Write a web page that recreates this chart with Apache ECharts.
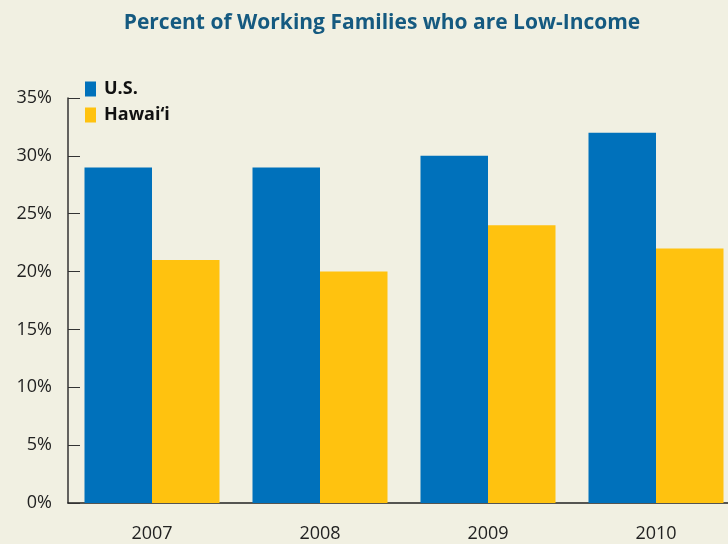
<!DOCTYPE html>
<html><head><meta charset="utf-8">
<script src="https://cdn.jsdelivr.net/npm/echarts@6/dist/echarts.min.js"></script>
<style>html,body{margin:0;padding:0;background:#f1f0e2;overflow:hidden}#c{width:760px;height:544px}</style>
</head><body><div id="c"></div>
<script>
const categories = ['2007','2008','2009','2010'];
const usValues = [29, 29, 30, 32];
const hawaiiValues = [21, 20, 24, 22];
const seriesNames = ['U.S.', 'Hawai\u2018i'];

const chart = echarts.init(document.getElementById('c'));
chart.setOption({
  backgroundColor: '#f1f0e2',
  animation: false,
  title: {
    text: 'Percent of Working Families who are Low-Income',
    left: 377, textAlign: 'center', top: 8,
    textStyle: {fontFamily: 'Open Sans, sans-serif', fontWeight: 'bold', fontSize: 21, color: '#155a80'}
  },
  legend: {
    orient: 'vertical', left: 80, top: 75,
    itemWidth: 11, itemHeight: 15, itemGap: 8,
    icon: 'rect',
    textStyle: {fontFamily: 'Open Sans, sans-serif', fontWeight: 'bold', fontSize: 18, color: '#111', padding: [0,0,0,3]},
    data: seriesNames
  },
  grid: {left: 68, top: 98, width: 672, height: 405},
  xAxis: {
    type: 'category', data: categories,
    axisLine: {lineStyle: {color: '#222', width: 1.5}},
    axisTick: {inside: true, length: 9, lineStyle: {color: '#222'}},
    axisLabel: {fontFamily: 'Open Sans, sans-serif', fontSize: 18, color: '#222', margin: 22}
  },
  yAxis: {
    type: 'value', min: 0, max: 35, interval: 5,
    axisLine: {show: true, lineStyle: {color: '#333', width: 1.5}},
    axisTick: {show: true, inside: true, length: 12, lineStyle: {color: '#333'}},
    splitLine: {show: false},
    axisLabel: {formatter: '{value}%', fontFamily: 'Open Sans, sans-serif', fontSize: 18, color: '#222', margin: 16}
  },
  series: [
    {name: seriesNames[0], type: 'bar', data: usValues, barWidth: 67.5, barGap: '0%', itemStyle: {color: '#0071bb'}},
    {name: seriesNames[1], type: 'bar', data: hawaiiValues, barWidth: 67.5, barGap: '0%', itemStyle: {color: '#ffc20f'}}
  ]
});
</script></body></html>
